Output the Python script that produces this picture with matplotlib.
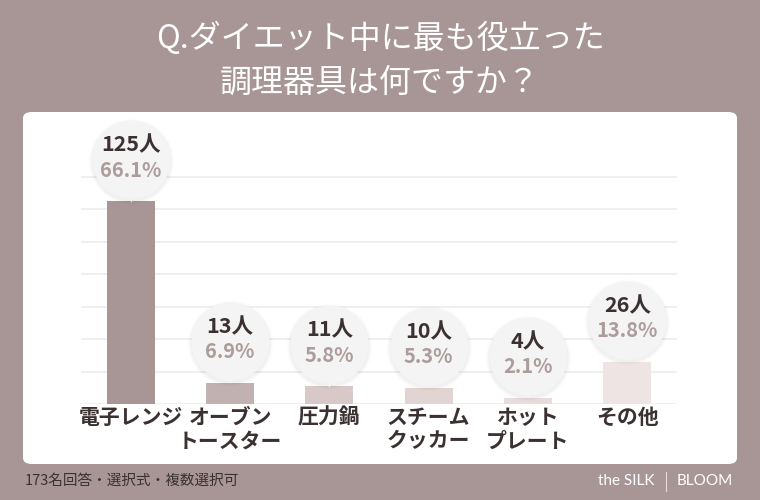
import matplotlib.pyplot as plt
from matplotlib.patches import FancyBboxPatch
from matplotlib.transforms import ScaledTranslation

# data
categories = ["電子レンジ", "オーブン\nトースター", "圧力鍋", "スチーム\nクッカー", "ホット\nプレート", "その他"]
counts = [125, 13, 11, 10, 4, 26]
percents = ["66.1%", "6.9%", "5.8%", "5.3%", "2.1%", "13.8%"]
bar_colors = ["#a89696", "#c2b1b1", "#d8c8c8", "#e3d4d4", "#e9dcdc", "#efe4e4"]

BG = "#a89696"
DARK = "#3b3131"
JP = ["Noto Sans CJK JP", "DejaVu Sans"]

fig = plt.figure(figsize=(7.6, 5), dpi=100)
fig.patch.set_facecolor(BG)

# white panel
panel = FancyBboxPatch((23 / 760, 36 / 500), 714 / 760, 352 / 500,
                       boxstyle="round,pad=0,rounding_size=0.012",
                       transform=fig.transFigure, facecolor="white",
                       edgecolor="none", zorder=-5)
fig.patches.append(panel)

# title
fig.text(0.5, 1 - 38 / 500, "Q.ダイエット中に最も役立った", ha="center", va="center",
         color="white", fontsize=23, family=JP)
fig.text(0.5, 1 - 83 / 500, "調理器具は何ですか？", ha="center", va="center",
         color="white", fontsize=23, family=JP)

ax = fig.add_axes([81 / 760, 96 / 500, 596 / 760, 292 / 500])
ax.set_facecolor("none")
x = list(range(len(categories)))
ax.set_xlim(-0.5, len(categories) - 0.5)
ax.set_ylim(0, 180)
for g in range(0, 141, 20):
    ax.axhline(g, color="#ececec", lw=1.2, zorder=1)
ax.bar(x, counts, width=0.48, color=bar_colors, zorder=2)

for s in ax.spines.values():
    s.set_visible(False)
ax.set_yticks([])
ax.set_xticks(x)
ax.set_xticklabels(categories, fontsize=15, fontweight="bold", color=DARK,
                   family=JP, linespacing=1.15)
ax.tick_params(axis="x", length=0, pad=2)

# bubbles above bars
up = ScaledTranslation(0, 0.42, fig.dpi_scale_trans)
tip = ScaledTranslation(0, 0.045, fig.dpi_scale_trans)
for k, a in [(3800, 0.012), (3550, 0.018), (3350, 0.025)]:
    ax.scatter(x, counts, s=k, color="#000000", alpha=a, lw=0,
               transform=ax.transData + up + ScaledTranslation(0, -0.02, fig.dpi_scale_trans),
               zorder=3)
ax.scatter(x, counts, s=3150, color="#f5f4f4", lw=0, transform=ax.transData + up, zorder=4)
ax.scatter(x, counts, s=55, marker="v", color="#f5f4f4", lw=0,
           transform=ax.transData + tip, zorder=4)

for i, (c, p) in enumerate(zip(counts, percents)):
    ax.annotate(f"{c}人", (i, c), xytext=(0, 56), textcoords="offset pixels",
                ha="center", va="center", fontsize=15.5, fontweight="bold",
                color=DARK, family=JP, zorder=5)
    ax.annotate(p, (i, c), xytext=(0, 31), textcoords="offset pixels",
                ha="center", va="center", fontsize=14.5, fontweight="bold",
                color="#ad9c9c", family=JP, zorder=5)

# footer
fig.text(25 / 760, 1 - 481 / 500, "173名回答・選択式・複数選択可", ha="left", va="center",
         color=DARK, fontsize=10.5, family=JP)
fig.text(655 / 760, 1 - 481 / 500, "the SILK", ha="right", va="center",
         color="white", fontsize=11, family=["Lato", "DejaVu Sans"])
fig.text(677 / 760, 1 - 481 / 500, "BLOOM", ha="left", va="center",
         color="white", fontsize=11, family=["Lato", "DejaVu Sans"])
fig.add_artist(plt.Line2D([666 / 760, 666 / 760], [1 - 472 / 500, 1 - 491 / 500],
                          transform=fig.transFigure, color="#e6dcdc", lw=0.8))

fig.savefig("out.png", dpi=100, facecolor=BG)
